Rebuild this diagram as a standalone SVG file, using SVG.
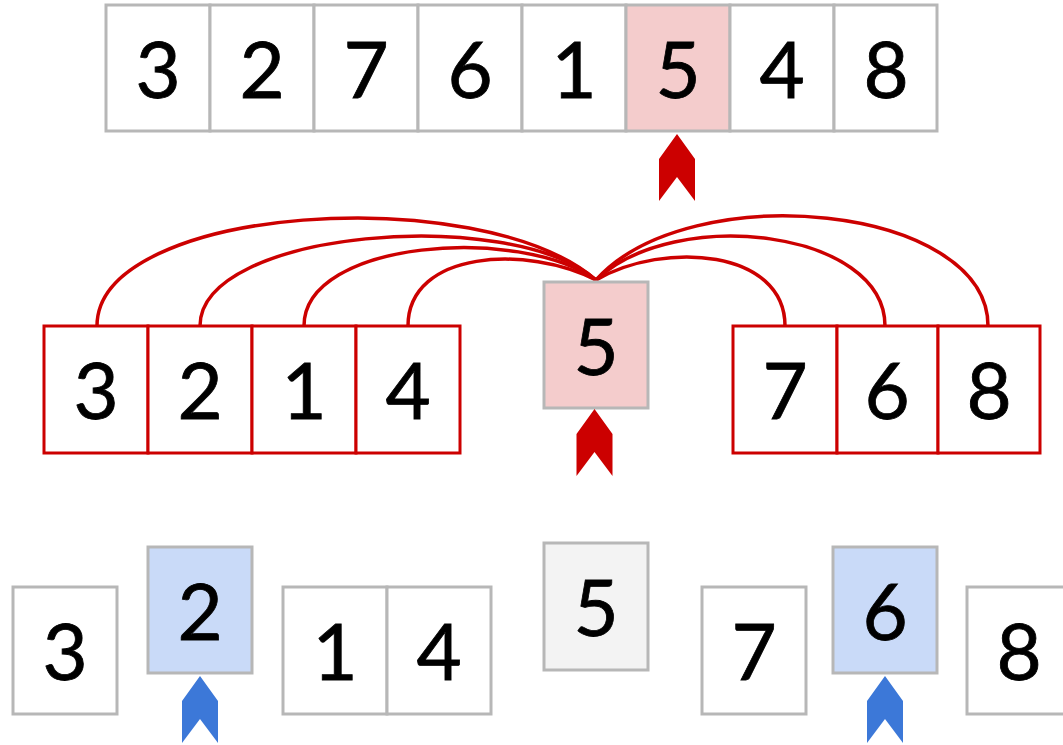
<svg xmlns="http://www.w3.org/2000/svg" width="1063" height="745" viewBox="0 0 1063 745">
  <style>
    .cell { fill: #ffffff; stroke: #b7b7b7; stroke-width: 3; }
    .pivot { fill: #f4cccc; }
    .pick { fill: #c9daf8; }
    .done { fill: #f3f3f3; }
    .part { fill: #ffffff; stroke: #cc0000; stroke-width: 3; }
    .num { font-family: Lato, "Liberation Sans", sans-serif; font-size: 78px; fill: #000000; stroke: #000000; stroke-width: 0.8; text-anchor: middle; }
    .link { fill: none; stroke: #cc0000; stroke-width: 3.5; }
    .ptr-red { fill: #cc0000; }
    .ptr-blue { fill: #3c78d8; }
  </style>
  <defs>
    <!-- upward chevron pointer, tip at origin -->
    <path id="ptr" d="M0,0 L18,25 L18,67 L0,43 L-18,67 L-18,25 Z"/>
  </defs>

  <!-- original array -->
  <g id="array">
    <rect class="cell" x="106" y="5" width="104" height="126"/>
    <rect class="cell" x="210" y="5" width="104" height="126"/>
    <rect class="cell" x="314" y="5" width="104" height="126"/>
    <rect class="cell" x="418" y="5" width="104" height="126"/>
    <rect class="cell" x="522" y="5" width="104" height="126"/>
    <rect class="cell pivot" x="626" y="5" width="104" height="126"/>
    <rect class="cell" x="730" y="5" width="104" height="126"/>
    <rect class="cell" x="834" y="5" width="103" height="126"/>
    <text class="num" x="158" y="98">3</text>
    <text class="num" x="262" y="98">2</text>
    <text class="num" x="366" y="98">7</text>
    <text class="num" x="470" y="98">6</text>
    <text class="num" x="574" y="98">1</text>
    <text class="num" x="678" y="98">5</text>
    <text class="num" x="782" y="98">4</text>
    <text class="num" x="886" y="98">8</text>
  </g>
  <g id="pointer-top"><use href="#ptr" class="ptr-red" x="677" y="134"/></g>

  <!-- comparisons against the pivot -->
  <g id="connectors">
    <path class="link" d="M97,326 C97,205 480,180 596,280"/>
    <path class="link" d="M200,326 C200,230 510,205 596,280"/>
    <path class="link" d="M304,326 C304,240 520,225 596,280"/>
    <path class="link" d="M408,326 C408,250 528,245 596,280"/>
    <path class="link" d="M785,326 C785,250 665,240 596,280"/>
    <path class="link" d="M885,326 C885,230 675,205 596,280"/>
    <path class="link" d="M988,326 C988,205 690,175 596,280"/>
  </g>

  <!-- partitions -->
  <g id="left-part">
    <rect class="part" x="44" y="326" width="104" height="127"/>
    <rect class="part" x="148" y="326" width="104" height="127"/>
    <rect class="part" x="252" y="326" width="104" height="127"/>
    <rect class="part" x="356" y="326" width="104" height="127"/>
    <text class="num" x="96" y="419">3</text>
    <text class="num" x="200" y="419">2</text>
    <text class="num" x="304" y="419">1</text>
    <text class="num" x="408" y="419">4</text>
  </g>
  <g id="pivot-mid">
    <rect class="cell pivot" x="544" y="282" width="104" height="126"/>
    <text class="num" x="596" y="375">5</text>
  </g>
  <g id="pointer-mid"><use href="#ptr" class="ptr-red" x="594.5" y="409"/></g>
  <g id="right-part">
    <rect class="part" x="733" y="326" width="104" height="127"/>
    <rect class="part" x="837" y="326" width="101" height="127"/>
    <rect class="part" x="938" y="326" width="102" height="127"/>
    <text class="num" x="785" y="419">7</text>
    <text class="num" x="887" y="419">6</text>
    <text class="num" x="989" y="419">8</text>
  </g>

  <!-- recursive step -->
  <g id="b3"><rect class="cell" x="13" y="587" width="104" height="127"/><text class="num" x="65" y="680">3</text></g>
  <g id="b2"><rect class="cell pick" x="148" y="547" width="104" height="126"/><text class="num" x="200" y="640">2</text></g>
  <g id="pointer-b2"><use href="#ptr" class="ptr-blue" x="200" y="676"/></g>
  <g id="b14">
    <rect class="cell" x="283" y="587" width="104" height="127"/>
    <rect class="cell" x="387" y="587" width="104" height="127"/>
    <text class="num" x="335" y="680">1</text>
    <text class="num" x="439" y="680">4</text>
  </g>
  <g id="b5"><rect class="cell done" x="544" y="543" width="104" height="127"/><text class="num" x="596" y="636">5</text></g>
  <g id="b7"><rect class="cell" x="702" y="587" width="104" height="127"/><text class="num" x="754" y="680">7</text></g>
  <g id="b6"><rect class="cell pick" x="833" y="547" width="104" height="126"/><text class="num" x="885" y="640">6</text></g>
  <g id="pointer-b6"><use href="#ptr" class="ptr-blue" x="885" y="676"/></g>
  <g id="b8"><rect class="cell" x="967" y="587" width="104" height="127"/><text class="num" x="1019" y="680">8</text></g>
</svg>
